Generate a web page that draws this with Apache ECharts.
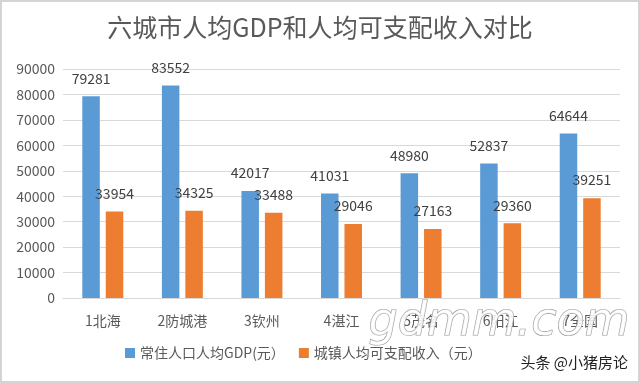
<!DOCTYPE html>
<html><head><meta charset="utf-8">
<script src="https://cdn.jsdelivr.net/npm/echarts@6/dist/echarts.min.js"></script>
<style>html,body{margin:0;padding:0;background:#fff;}#c{width:640px;height:383px;box-sizing:border-box;border:2px solid #d4d4d4;}</style>
</head><body><div id="c"></div>
<script>
var categories = ['1北海','2防城港','3钦州','4湛江','5茂名','6阳江','7全国'];
var gdpValues = [79281, 83552, 42017, 41031, 48980, 52837, 64644];
var incomeValues = [33954, 34325, 33488, 29046, 27163, 29360, 39251];
var seriesNames = ['常住人口人均GDP(元）','城镇人均可支配收入（元）'];
var yTicks = {min: 0, max: 90000, interval: 10000};
var titleText = '六城市人均GDP和人均可支配收入对比';

var chart = echarts.init(document.getElementById('c'));
var font = '"Microsoft YaHei","Noto Sans CJK SC",sans-serif';
var txt = '#595959';
chart.setOption({
  animation: false,
  textStyle: {fontFamily: font},
  title: {text: titleText, left: 'center', top: 8,
    textStyle: {fontSize: 25, fontWeight: 'normal', color: txt, fontFamily: font}},
  legend: {bottom: 16, left: 118, itemWidth: 10, itemHeight: 10, itemGap: 14, icon: 'rect',
    textStyle: {fontSize: 14, color: txt, fontFamily: font}, data: seriesNames},
  grid: {left: 61, right: 18, top: 67, bottom: 83, containLabel: false},
  xAxis: {type: 'category', data: categories,
    axisLine: {lineStyle: {color: '#d9d9d9'}}, axisTick: {show: false},
    axisLabel: {fontSize: 14, color: txt, margin: 16}},
  yAxis: {type: 'value', min: yTicks.min, max: yTicks.max, interval: yTicks.interval,
    axisLine: {show: false}, axisTick: {show: false},
    splitLine: {lineStyle: {color: '#d9d9d9'}},
    axisLabel: {fontSize: 14, color: txt, margin: 8, formatter: function (v) { return String(v); }}},
  series: [
    {name: seriesNames[0], type: 'bar', data: gdpValues, barWidth: '22%', barGap: '34%',
     itemStyle: {color: '#5B9BD5'},
     label: {show: true, position: 'top', distance: 11, fontSize: 14, color: '#404040'}},
    {name: seriesNames[1], type: 'bar', data: incomeValues, barWidth: '22%',
     itemStyle: {color: '#ED7D31'},
     label: {show: true, position: 'top', distance: 11, fontSize: 14, color: '#404040'}}
  ],
  graphic: [
    {type: 'text', left: 366, top: 297, z: 100,
     style: {text: 'gdmm.com', fontSize: 46, fontStyle: 'italic', fontFamily: '"DejaVu Sans",sans-serif',
       fill: 'rgba(255,255,255,0.85)', stroke: '#9a9a9a', lineWidth: 1.2}},
    {type: 'text', right: 10, top: 353, z: 100,
     style: {text: '头条 @小猪房论', fontSize: 15, fill: '#222', fontFamily: font}}
  ]
});
</script></body></html>
